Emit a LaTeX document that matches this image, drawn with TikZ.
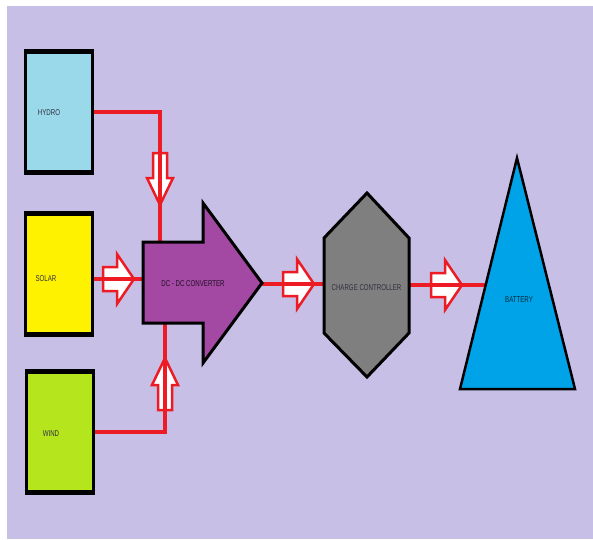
\documentclass[tikz,border=0pt]{standalone}
\usepackage{fontspec}
\newfontfamily\narrowfont[FakeStretch=0.72]{Liberation Sans}
\definecolor{lav}{HTML}{C8BFE7}
\definecolor{hydrocol}{HTML}{99D9EA}
\definecolor{solarcol}{HTML}{FFF200}
\definecolor{windcol}{HTML}{B5E61D}
\definecolor{dccol}{HTML}{A349A4}
\definecolor{cccol}{HTML}{7F7F7F}
\definecolor{batcol}{HTML}{00A2E8}
\definecolor{pred}{HTML}{ED1C24}
\definecolor{txt}{HTML}{303040}
\begin{document}
\begin{tikzpicture}[x=1pt,y=-1pt,
  srcbox/.style={draw=black, line width=3pt, minimum width=67pt, minimum height=120pt, inner sep=0pt},
  bar/.style={line width=5pt},
  wire/.style={draw=pred, line width=4pt},
  hollow/.style={draw=pred, fill=white, line width=2.5pt, line join=miter},
  shapeline/.style={draw=black, line width=3pt, line join=miter},
  lbl/.style={font=\narrowfont\fontsize{8.5}{9}\selectfont, text=txt, inner sep=0pt},
  harr/.pic={\path[hollow] (0,-12) -- (14,-12) -- (14,-25) -- (31,0) -- (14,25) -- (14,12) -- (0,12) -- cycle;},
  varr/.pic={\path[hollow] (-7,0) -- (7,0) -- (7,25) -- (13,25) -- (0,52) -- (-13,25) -- (-7,25) -- cycle;}
]
\useasboundingbox (0,0) rectangle (593,539);
\fill[lav] (7,6) rectangle (593,539);

% source boxes
\node[srcbox, fill=hydrocol] (hydro) at (59,111.5) {};
\node[srcbox, fill=solarcol] (solar) at (59,273.5) {};
\node[srcbox, fill=windcol] (wind) at (60,431.5) {};
\foreach \b in {hydro,solar,wind}{
  \draw[bar] ([yshift=-1pt]\b.north west) -- ([yshift=-1pt]\b.north east);
  \draw[bar] ([yshift=1pt]\b.south west) -- ([yshift=1pt]\b.south east);
}

% connection coordinates
\coordinate (dcn) at (160,242);
\coordinate (dcs) at (165,323);
\coordinate (dcw) at (143,279);
\coordinate (dce) at (262,284);
\coordinate (ccw) at (324,284);
\coordinate (cce) at (409,285);
\coordinate (batw) at (486,285);

% hollow arrows
\pic at (160,153) {varr};
\pic[rotate=180] at (165,410) {varr};
\pic at (103,279) {harr};
\pic at (283,284) {harr};
\pic at (431,285) {harr};

% wires
\draw[wire] (hydro.east) -| (dcn);
\draw[wire] (wind.east) -| (dcs);
\draw[wire] (solar.east |- dcw) -- (dcw);
\draw[wire] (dce) -- (ccw);
\draw[wire] (cce) -- (batw);

% DC-DC converter
\draw[shapeline, fill=dccol] (143,242) -- (203,242) -- (203,203) -- (262,283) -- (203,363) -- (203,323) -- (143,323) -- cycle;
% charge controller
\draw[shapeline, fill=cccol] (324,238) -- (367,193) -- (409,238) -- (409,333) -- (367,377) -- (324,333) -- cycle;
% battery
\draw[shapeline, fill=batcol, line width=2.5pt] (517,158) -- (575,389) -- (460,389) -- cycle;

% labels
\node[lbl] (hydrot) at (49,113) {HYDRO};
\node[lbl] (solart) at (46,279) {SOLAR};
\node[lbl] (windt) at (51,434) {WIND};
\node[lbl, text=black!80!dccol] (dct) at (193,284) {DC - DC CONVERTER};
\node[lbl] (cct) at (366.5,288) {CHARGE CONTROLLER};
\node[lbl, text=black!75!batcol] (batt) at (519,300) {BATTERY};
\end{tikzpicture}
\end{document}
